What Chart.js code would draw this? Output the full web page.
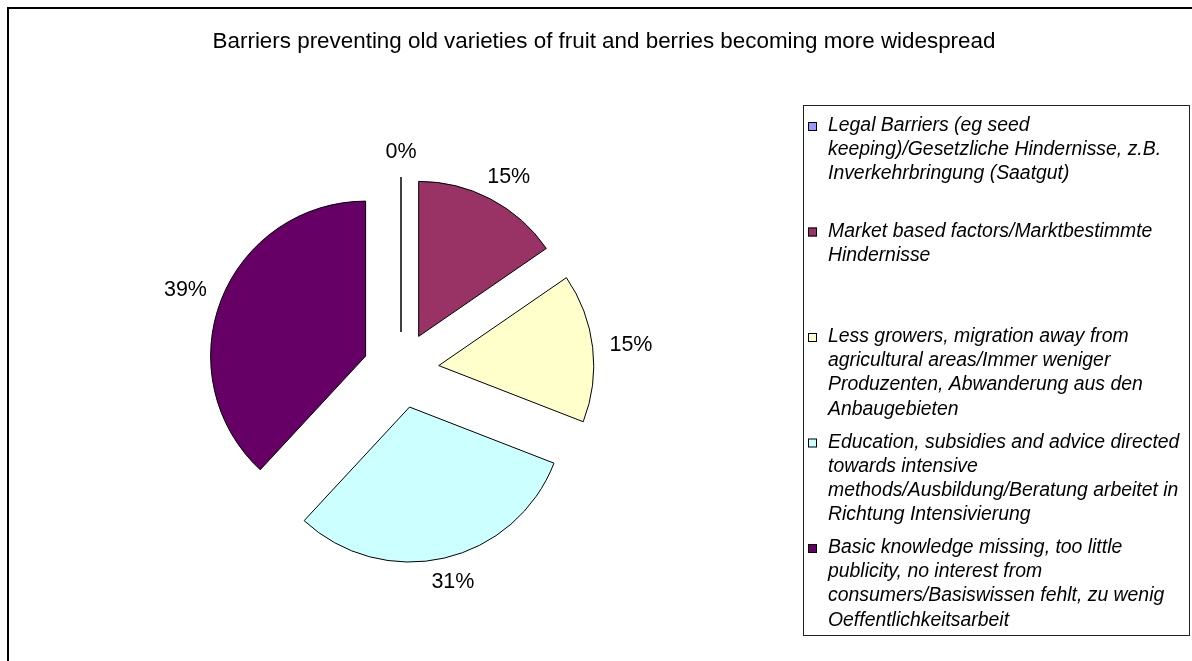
<!DOCTYPE html>
<html>
<head>
<meta charset="utf-8">
<title>Barriers preventing old varieties of fruit and berries</title>
<script src="https://cdn.jsdelivr.net/npm/chart.js@4.4.1/dist/chart.umd.min.js"></script>
<style>
    html, body { margin: 0; padding: 0; background: #fff; }
    #wrap { position: relative; width: 1192px; height: 661px; }
</style>
</head>
<body>
<div id="wrap"><canvas id="pieChart"></canvas></div>
<script>
var chartTitle = 'Barriers preventing old varieties of fruit and berries becoming more widespread';

// legend labels, already broken into lines like the original
var categories = [
    ['Legal Barriers (eg seed', 'keeping)/Gesetzliche Hindernisse, z.B.', 'Inverkehrbringung (Saatgut)'],
    ['Market based factors/Marktbestimmte', 'Hindernisse'],
    ['Less growers, migration away from', 'agricultural areas/Immer weniger', 'Produzenten, Abwanderung aus den', 'Anbaugebieten'],
    ['Education, subsidies and advice directed', 'towards intensive', 'methods/Ausbildung/Beratung arbeitet in', 'Richtung Intensivierung'],
    ['Basic knowledge missing, too little', 'publicity, no interest from', 'consumers/Basiswissen fehlt, zu wenig', 'Oeffentlichkeitsarbeit']
];

// slice sizes
var shares = [0, 15.4, 15.5, 31, 38.1];

// percentages printed next to the slices
var shareLabels = ['0%', '15%', '15%', '31%', '39%'];

var sliceColors = ['#9999FF', '#993366', '#FFFFCC', '#CCFFFF', '#660066'];

var fontFamily = '"Liberation Sans", Arial, Helvetica, sans-serif';
var explode = 38;     // how far every slice is pulled out
var labelGap = 17;    // gap between rim and label box

// draws frame, title, exploded slices, % labels and the boxed legend
var excelPie = {
    id: 'excelPie',
    beforeDraw: function (chart) {
        var ctx = chart.ctx;
        ctx.save();
        ctx.fillStyle = '#fff';
        ctx.fillRect(0, 0, chart.width, chart.height);
        ctx.strokeStyle = '#000';
        ctx.lineWidth = 2;
        ctx.strokeRect(8, 8, chart.width + 40, chart.height + 40);
        ctx.fillStyle = '#000';
        ctx.font = '22.4px ' + fontFamily;
        ctx.textAlign = 'center';
        ctx.textBaseline = 'alphabetic';
        ctx.fillText(chartTitle, 604, 48);
        ctx.restore();
    },
    beforeDatasetDraw: function (chart, args) {
        var ctx = chart.ctx;
        args.meta.data.forEach(function (arc) {
            var mid = (arc.startAngle + arc.endAngle) / 2;
            ctx.save();
            ctx.translate(Math.cos(mid) * explode, Math.sin(mid) * explode);
            if (arc.endAngle - arc.startAngle === 0) {
                // empty slice: Excel still draws its edge
                ctx.beginPath();
                ctx.moveTo(arc.x, arc.y);
                ctx.lineTo(arc.x + Math.cos(arc.startAngle) * arc.outerRadius,
                           arc.y + Math.sin(arc.startAngle) * arc.outerRadius);
                ctx.strokeStyle = '#000';
                ctx.lineWidth = 1.5;
                ctx.stroke();
            } else {
                arc.draw(ctx);
            }
            ctx.restore();
        });
        return false;
    },
    afterDraw: function (chart) {
        var ctx = chart.ctx;
        var arcs = chart.getDatasetMeta(0).data;
        ctx.save();

        // percentage labels, box edge kept a fixed gap from the rim
        ctx.fillStyle = '#000';
        ctx.font = '21.5px ' + fontFamily;
        ctx.textAlign = 'center';
        ctx.textBaseline = 'middle';
        arcs.forEach(function (arc, i) {
            var mid = (arc.startAngle + arc.endAngle) / 2;
            var dx = Math.cos(mid), dy = Math.sin(mid);
            var r = arc.outerRadius + explode + labelGap;
            var halfW = ctx.measureText(shareLabels[i]).width / 2;
            ctx.fillText(shareLabels[i], arc.x + dx * (r + halfW), arc.y + dy * (r + 8));
        });

        // legend box
        ctx.strokeStyle = '#222';
        ctx.lineWidth = 1;
        ctx.strokeRect(803.5, 105.5, 386, 530);
        ctx.font = 'italic 19.4px ' + fontFamily;
        ctx.textAlign = 'left';
        ctx.textBaseline = 'alphabetic';
        categories.forEach(function (lines, i) {
            var base = 131 + i * 105.5;
            ctx.fillStyle = sliceColors[i];
            ctx.fillRect(808, base - 9, 9, 9);
            ctx.strokeStyle = '#000';
            ctx.strokeRect(808.5, base - 8.5, 8, 8);
            ctx.fillStyle = '#000';
            lines.forEach(function (line, j) {
                ctx.fillText(line, 828, base + j * 24.2);
            });
        });
        ctx.restore();
    }
};

const data = {
    labels: categories,
    datasets: [{
        data: shares,
        backgroundColor: sliceColors,
        borderColor: '#000',
        borderWidth: 1,
        radius: 155
    }]
};

const config = {
    type: 'pie',
    data: data,
    options: {
        responsive: true,
        maintainAspectRatio: false,
        animation: false,
        events: [],
        layout: {
            padding: { left: 201, right: 591, top: 170, bottom: 91 }
        },
        plugins: {
            legend: { display: false },
            title: { display: false },
            tooltip: { enabled: false }
        }
    },
    plugins: [excelPie]
};

const pieChart = new Chart(document.getElementById('pieChart'), config);
</script>
</body>
</html>
